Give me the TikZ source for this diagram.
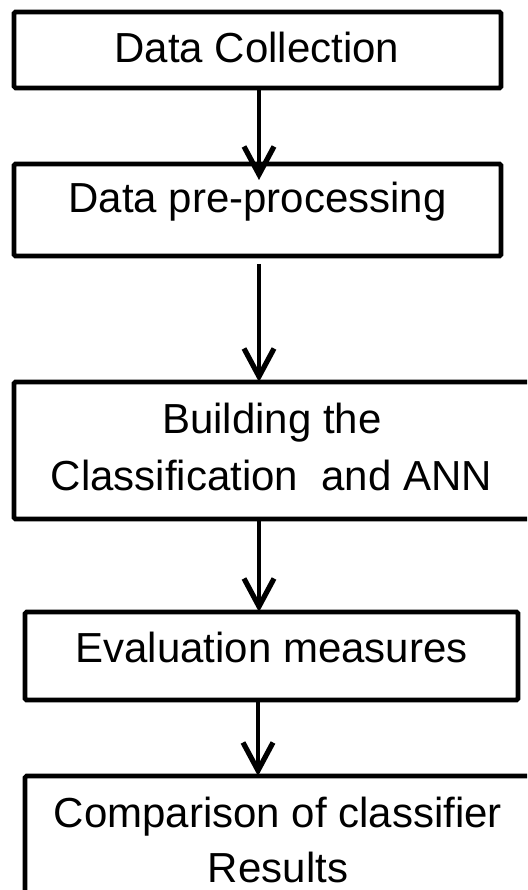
\documentclass[tikz,border=0pt]{standalone}
\usepackage{fontspec}
\setmainfont{Liberation Sans}
\usetikzlibrary{arrows.meta}
\begin{document}
\begin{tikzpicture}[x=1pt,y=-1pt,
  stagebox/.style={draw, line width=4.6pt, rounded corners=1.5pt, inner sep=0pt, outer sep=0pt},
  label/.style={anchor=base, inner sep=0pt, font=\fontsize{42}{50}\selectfont},
  flow/.style={line width=4.6pt, -{Straight Barb[length=28pt,width=30pt,line width=5.2pt]}}]
  \useasboundingbox (0,0) rectangle (527,890);
  \clip (0,0) rectangle (527,890);
  % stage boxes
  \node[stagebox, minimum width=487pt, minimum height=76pt] (collect) at (257.5,50) {};
  \node[stagebox, minimum width=487pt, minimum height=92pt] (prep) at (257.5,210) {};
  \node[stagebox, minimum width=526pt, minimum height=137pt] (build) at (277,450.5) {};
  \node[stagebox, minimum width=493pt, minimum height=88pt] (eval) at (271.5,656) {};
  \node[stagebox, minimum width=515pt, minimum height=144pt] (compare) at (282.5,848) {};
  % stage texts
  \node[label] (t1) at (257,63) {Data Collection};
  \node[label] (t2) at (257.5,213) {Data pre-processing};
  \node[label] (t3a) at (272,433) {Building the};
  \node[label] (t3b) at (271.5,490) {Classification\ \ and ANN};
  \node[label] (t4) at (271.5,662) {Evaluation measures};
  \node[label] (t5a) at (278,827) {Comparison of classifier};
  \node[label] (t5b) at (278,882) {Results};
  % connectors
  \coordinate (a1) at (259,180);
  \coordinate (s2) at (259,264);
  \draw[flow] (collect.south -| a1) -- (a1);
  \draw[flow] (s2) -- (s2 |- build.north);
  \draw[flow] (build.south -| s2) -- (s2 |- eval.north);
  \draw[flow] ([xshift=-1pt]eval.south -| s2) -- ([xshift=-1pt]s2 |- compare.north);
\end{tikzpicture}
\end{document}
